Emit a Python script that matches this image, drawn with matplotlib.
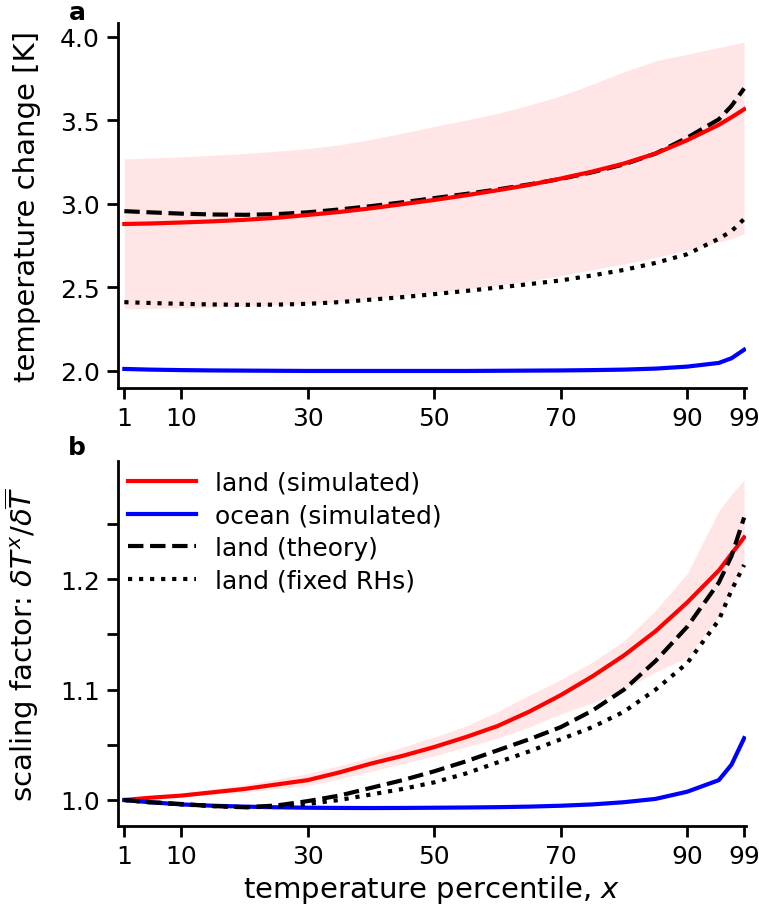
import numpy as np
import matplotlib
matplotlib.use('Agg')
import matplotlib.pyplot as plt

# percentiles at which the curves are given
percentiles = [1, 5, 10, 15, 20, 25, 30, 35, 40, 45, 50, 55, 60, 65, 70, 75, 80, 85, 90, 95, 97, 99]

# panel a: temperature change [K]
land_sim = [2.878, 2.881, 2.887, 2.894, 2.903, 2.915, 2.932, 2.950, 2.972, 2.997, 3.022,
            3.050, 3.080, 3.112, 3.150, 3.192, 3.240, 3.300, 3.380, 3.472, 3.517, 3.565]
ocean_sim = [2.010, 2.006, 2.003, 2.001, 2.000, 1.999, 1.998, 1.998, 1.998, 1.998, 1.998,
             1.998, 1.999, 2.000, 2.001, 2.003, 2.006, 2.012, 2.024, 2.046, 2.074, 2.125]
land_theory = [2.955, 2.948, 2.940, 2.935, 2.933, 2.937, 2.948, 2.965, 2.985, 3.008, 3.033,
               3.058, 3.085, 3.115, 3.148, 3.188, 3.235, 3.300, 3.395, 3.505, 3.585, 3.690]
land_fixed_rh = [2.410, 2.405, 2.400, 2.396, 2.394, 2.395, 2.400, 2.410, 2.425, 2.440, 2.458,
                 2.477, 2.497, 2.518, 2.540, 2.570, 2.603, 2.645, 2.697, 2.790, 2.835, 2.908]
land_upper = [3.268, 3.273, 3.280, 3.290, 3.300, 3.314, 3.330, 3.352, 3.385, 3.422, 3.462,
              3.500, 3.540, 3.590, 3.645, 3.715, 3.790, 3.855, 3.895, 3.935, 3.950, 3.968]
land_lower = [2.370, 2.372, 2.376, 2.380, 2.386, 2.393, 2.400, 2.413, 2.430, 2.450, 2.470,
              2.490, 2.510, 2.538, 2.568, 2.605, 2.638, 2.678, 2.720, 2.770, 2.790, 2.820]

# panel b: scaling factor
sf_land_sim = [1.000, 1.002, 1.004, 1.007, 1.010, 1.014, 1.018, 1.025, 1.033, 1.040, 1.048,
               1.057, 1.067, 1.080, 1.095, 1.112, 1.131, 1.153, 1.179, 1.208, 1.223, 1.238]
sf_ocean_sim = [1.000, 0.998, 0.996, 0.9948, 0.994, 0.9934, 0.993, 0.9928, 0.9927, 0.9928, 0.993,
                0.9932, 0.9935, 0.994, 0.9948, 0.996, 0.998, 1.001, 1.0075, 1.018, 1.032, 1.056]
sf_land_theory = [1.000, 0.998, 0.9964, 0.9945, 0.9934, 0.995, 0.999, 1.004, 1.011, 1.018, 1.026,
                  1.035, 1.045, 1.055, 1.066, 1.081, 1.100, 1.126, 1.157, 1.197, 1.221, 1.256]
sf_land_fixed_rh = [1.000, 0.998, 0.996, 0.9945, 0.9934, 0.994, 0.9964, 1.000, 1.005, 1.010, 1.016,
                    1.024, 1.034, 1.044, 1.055, 1.066, 1.080, 1.100, 1.124, 1.163, 1.190, 1.213]
sf_upper = [1.000, 1.003, 1.006, 1.010, 1.014, 1.019, 1.024, 1.031, 1.039, 1.048, 1.057,
            1.067, 1.080, 1.095, 1.109, 1.125, 1.144, 1.172, 1.205, 1.262, 1.277, 1.290]
sf_lower = [1.000, 1.001, 1.003, 1.005, 1.007, 1.010, 1.013, 1.019, 1.026, 1.033, 1.040,
            1.048, 1.056, 1.066, 1.078, 1.088, 1.100, 1.116, 1.129, 1.167, 1.190, 1.215]

xticks = [1, 10, 30, 50, 70, 90, 99]

plt.rcParams['font.family'] = 'DejaVu Sans'
plt.rcParams['mathtext.fontset'] = 'dejavusans'

LW = 3
TICK_FS = 18
LABEL_FS = 21


def style_axis(ax):
    ax.spines['top'].set_visible(False)
    ax.spines['right'].set_visible(False)
    ax.spines['left'].set_linewidth(2)
    ax.spines['bottom'].set_linewidth(2)
    ax.tick_params(which='both', length=8, width=2, pad=5, labelsize=TICK_FS)
    ax.set_xlim(0, 99.3)
    ax.set_xticks(xticks)


def Main():
    fig = plt.figure(figsize=(7.59, 9.2), dpi=100)
    ax1 = fig.add_axes([0.1555, 0.5772, 0.8274, 0.3964])
    ax2 = fig.add_axes([0.1555, 0.1014, 0.8274, 0.3968])

    # panel a
    ax1.fill_between(percentiles, land_lower, land_upper, color='red', alpha=0.1, linewidth=0)
    ax1.plot(percentiles, land_theory, color='k', ls='--', lw=LW)
    ax1.plot(percentiles, land_sim, color='red', lw=LW)
    ax1.plot(percentiles, ocean_sim, color='blue', lw=LW)
    ax1.plot(percentiles, land_fixed_rh, color='k', ls=':', lw=LW)
    style_axis(ax1)
    ax1.set_ylim(1.896, 4.080)
    ax1.set_yticks([2.0, 2.5, 3.0, 3.5, 4.0])
    ax1.set_ylabel('temperature change [K]', fontsize=LABEL_FS)
    ax1.yaxis.set_label_coords(-0.123, 0.5)
    ax1.text(-0.065, 1.031, 'a', transform=ax1.transAxes, fontweight='bold',
             ha='center', va='center', fontsize=18)

    # panel b
    ax2.fill_between(percentiles, sf_lower, sf_upper, color='red', alpha=0.1, linewidth=0)
    ax2.plot(percentiles, sf_land_sim, color='red', lw=LW, label='land (simulated)')
    ax2.plot(percentiles, sf_ocean_sim, color='blue', lw=LW, label='ocean (simulated)')
    ax2.plot(percentiles, sf_land_theory, color='k', ls='--', lw=LW, label='land (theory)')
    ax2.plot(percentiles, sf_land_fixed_rh, color='k', ls=':', lw=LW, label='land (fixed RHs)')
    style_axis(ax2)
    ax2.set_ylim(0.9767, 1.3075)
    ax2.set_yticks([1.0, 1.1, 1.2])
    ax2.set_yticks([1.05, 1.15, 1.25], minor=True)
    ax2.set_ylabel(r'scaling factor: $\delta T^{x}/\delta \overline{T}$', fontsize=LABEL_FS)
    ax2.yaxis.set_label_coords(-0.123, 0.5)
    ax2.set_xlabel('temperature percentile, $x$', fontsize=LABEL_FS, labelpad=4)
    ax2.text(-0.065, 1.037, 'b', transform=ax2.transAxes, fontweight='bold',
             ha='center', va='center', fontsize=18)
    ax2.legend(loc='upper left', bbox_to_anchor=(0, 1), frameon=False, fontsize=18,
               handlelength=2.7, handletextpad=0.76, labelspacing=0.35,
               borderpad=0.35, borderaxespad=0.05)

    fig.savefig('out.png', dpi=100)


if __name__ == "__main__":
    Main()
